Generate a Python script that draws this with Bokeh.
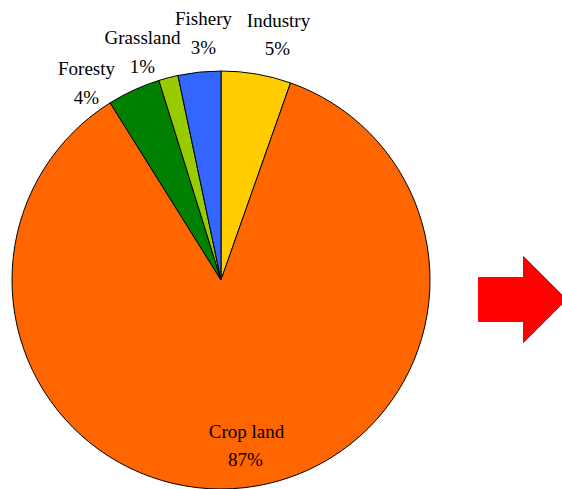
import math
from bokeh.plotting import figure
from bokeh.models import Range1d, ColumnDataSource, LabelSet
from bokeh.embed import file_html
from bokeh.resources import INLINE

# ---- data (clockwise from 12 o'clock) ----
categories = ["Industry", "Crop land", "Foresty", "Grassland", "Fishery"]
shares = [5.4, 85.7, 4.1, 1.5, 3.3]
pct_labels = ["5%", "87%", "4%", "1%", "3%"]
colors = ["#FFCC00", "#FF6600", "#008000", "#99CC00", "#3366FF"]

W, H = 562, 489
CX, CY, R = 220.5, H - 279.5, 209.0

p = figure(width=W, height=H, output_backend="svg", toolbar_location=None,
           x_range=Range1d(0, W), y_range=Range1d(0, H), min_border=0)
p.axis.visible = False
p.grid.visible = False
p.outline_line_color = None
p.background_fill_color = "white"
p.border_fill_color = "white"

total = sum(shares)
starts, ends = [], []
cum = 0.0
for s in shares:
    a0 = math.pi / 2 - 2 * math.pi * (cum + s) / total
    a1 = math.pi / 2 - 2 * math.pi * cum / total
    starts.append(a0)
    ends.append(a1)
    cum += s

src = ColumnDataSource(dict(cat=categories, start=starts, end=ends, color=colors))
p.wedge(x=CX, y=CY, radius=R, start_angle="start", end_angle="end",
        fill_color="color", line_color="black", line_width=1, source=src)

# label positions (pixel coords from top) for name line and percent line
name_pos = [(278, 20), (246, 431), (86, 68), (142, 37), (203, 18)]
pct_pos = [(277, 48), (245, 459), (86, 97), (142, 66), (203, 47)]

lab_src = ColumnDataSource(dict(
    x=[q[0] for q in name_pos] + [q[0] for q in pct_pos],
    y=[H - q[1] for q in name_pos] + [H - q[1] for q in pct_pos],
    t=categories + pct_labels))
p.add_layout(LabelSet(x="x", y="y", text="t", source=lab_src,
                      text_font="DejaVu Serif", text_font_size="19px",
                      text_align="center", text_baseline="middle",
                      text_color="black"))

# red block arrow at right
ax = [478, 523, 523, 566, 523, 523, 478]
ay = [277, 277, 256, 299, 342, 321, 321]
p.patch(x=ax, y=[H - v for v in ay], fill_color="#FF0000", line_color="#FF0000")

open("out.html", "w").write(file_html(p, INLINE))
